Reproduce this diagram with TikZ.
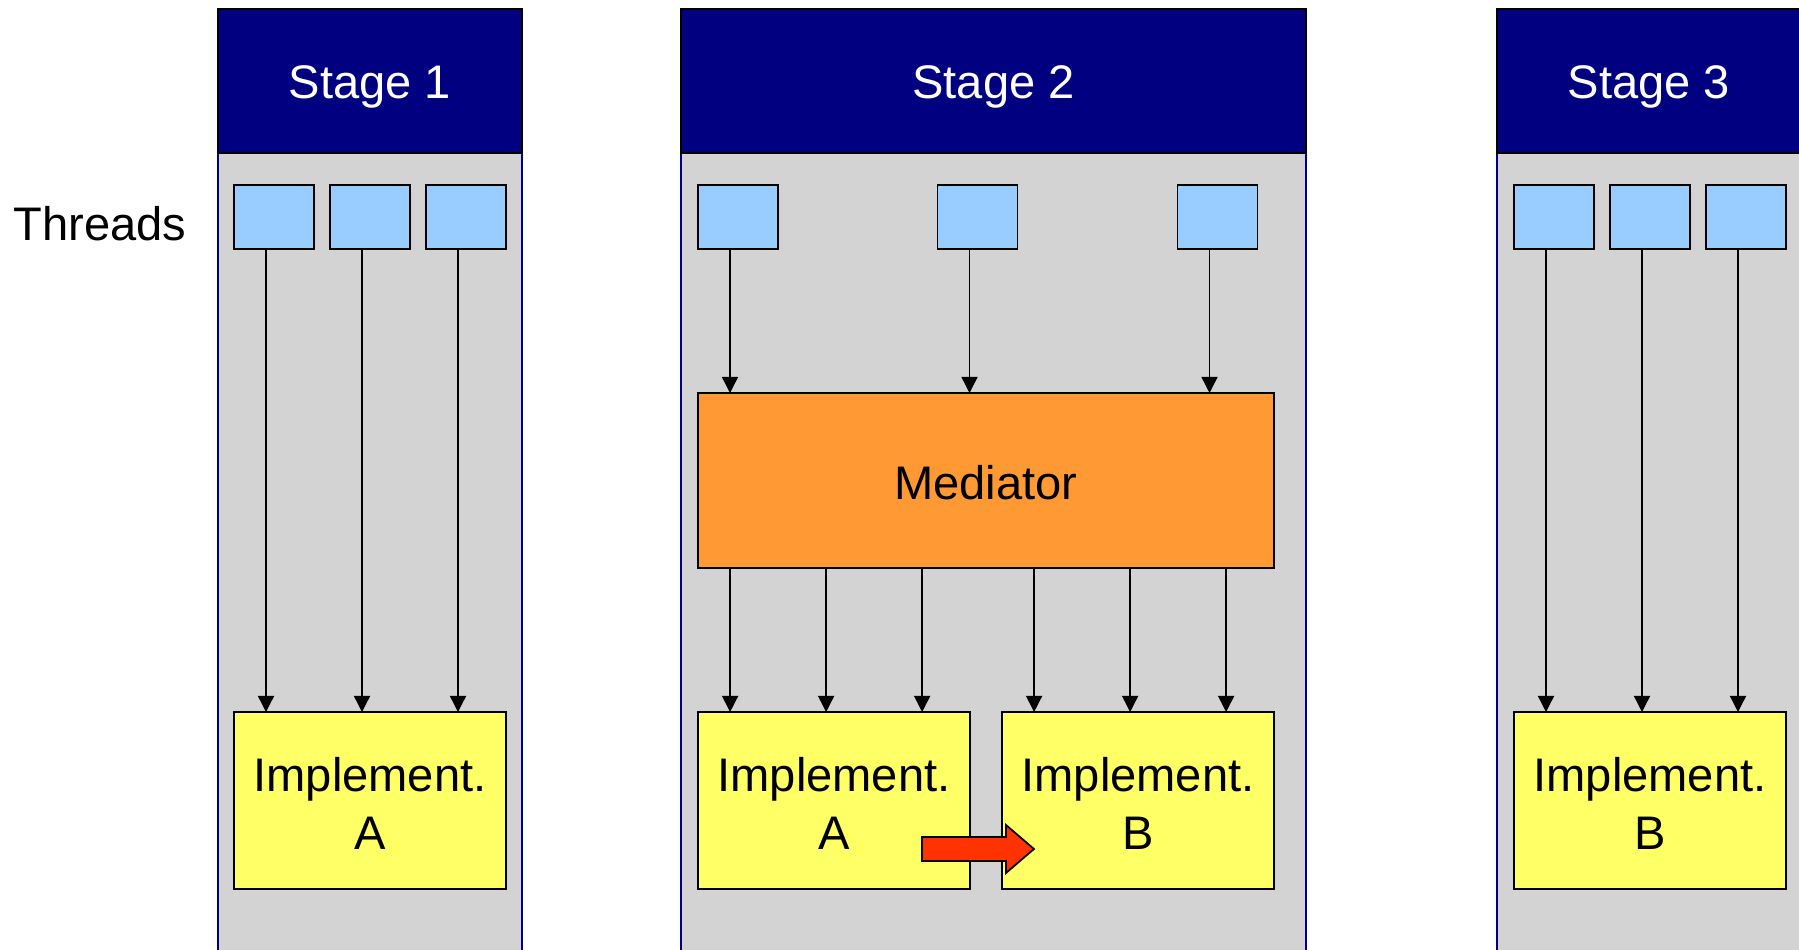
\documentclass[tikz,border=0pt]{standalone}
\usepackage{fontspec}
\setmainfont{Liberation Sans}
\usetikzlibrary{arrows.meta,calc}

\definecolor{hdrblue}{HTML}{000080}
\definecolor{bodygray}{HTML}{D3D3D3}
\definecolor{threadblue}{HTML}{99CCFF}
\definecolor{medorange}{HTML}{FF9933}
\definecolor{implyellow}{HTML}{FFFF66}
\definecolor{moved}{HTML}{FF3300}

\begin{document}
\begin{tikzpicture}[x=0.1mm,y=-0.1mm,
  every node/.style={font=\fontsize{13.4}{16.5}\selectfont,inner sep=0pt,outer sep=0pt},
  header/.style={draw=black,line width=0.5pt,fill=hdrblue,text=white,minimum height=14.4mm,text height=0.72em,text depth=0pt},
  column/.style={draw=hdrblue,line width=0.5pt,fill=bodygray},
  thread/.style={draw=black,line width=0.5pt,fill=threadblue,minimum width=8mm,minimum height=6.4mm},
  impl/.style={draw=black,line width=0.5pt,fill=implyellow,minimum width=27.2mm,minimum height=17.7mm,align=center},
  flow/.style={-{Triangle[length=1.6mm,width=1.6mm]},line width=0.4pt}]
	\useasboundingbox (0,0) rectangle (1799,950);
	\clip (0,0) rectangle (1799,950);

	% stage columns
	\draw[column] (218,153) rectangle (522,1000);
	\draw[column] (681,153) rectangle (1306,1000);
	\draw[column] (1497,153) rectangle (1801,1000);

	\draw[draw=black,line width=0.5pt,fill=hdrblue] (218,9) rectangle (522,153);
	\draw[draw=black,line width=0.5pt,fill=hdrblue] (681,9) rectangle (1306,153);
	\draw[draw=black,line width=0.5pt,fill=hdrblue] (1497,9) rectangle (1801,153);
	\node[text=white] (h1) at (370,87)    {Stage 1};
	\node[text=white] (h2) at (993.5,87)  {Stage 2};
	\node[text=white] (h3) at (1649,87)   {Stage 3};

	\node[anchor=base] (threads) at (100,241) {Threads};

	% threads
	\node[thread] (s1t1) at (274,217)    {};
	\node[thread] (s1t2) at (370,217)    {};
	\node[thread] (s1t3) at (466,217)    {};

	\node[thread] (s2t1) at (738,217)    {};
	\node[thread] (s2t2) at (977.5,217)  {};
	\node[thread] (s2t3) at (1217.5,217) {};

	\node[thread] (s3t1) at (1554,217)   {};
	\node[thread] (s3t2) at (1650,217)   {};
	\node[thread] (s3t3) at (1746,217)   {};

	% mediator and implementations
	\node[draw=black,line width=0.5pt,fill=medorange,minimum width=57.6mm,minimum height=17.5mm] (med) at (986,480.5) {};
	\node at (986,483) {Mediator};

	\node[impl] (s1a) at (370,800.5)  {};
	\node[impl] (s2a) at (834,800.5)  {};
	\node[impl] (s2b) at (1138,800.5) {};
	\node[impl] (s3b) at (1650,800.5) {};
	\node[align=center] at (370,803)  {Implement.\\A};
	\node[align=center] at (834,803)  {Implement.\\A};
	\node[align=center] at (1138,803) {Implement.\\B};
	\node[align=center] at (1650,803) {Implement.\\B};

	% stage 1
	\draw[flow] ($(s1t1.south west)!.4!(s1t1.south east)$) coordinate (p) -- (p |- s1a.north);
	\draw[flow] ($(s1t2.south west)!.4!(s1t2.south east)$) coordinate (p) -- (p |- s1a.north);
	\draw[flow] ($(s1t3.south west)!.4!(s1t3.south east)$) coordinate (p) -- (p |- s1a.north);

	% stage 2
	\draw[flow] ($(s2t1.south west)!.4!(s2t1.south east)$) coordinate (p) -- (p |- med.north);
	\draw[flow] ($(s2t2.south west)!.4!(s2t2.south east)$) coordinate (p) -- (p |- med.north);
	\draw[flow] ($(s2t3.south west)!.4!(s2t3.south east)$) coordinate (p) -- (p |- med.north);

	\path ($(s2a.north west)!.118!(s2a.north east)$) coordinate (a1)
	      ($(s2a.north west)!.471!(s2a.north east)$) coordinate (a2)
	      ($(s2a.north west)!.824!(s2a.north east)$) coordinate (a3)
	      ($(s2b.north west)!.118!(s2b.north east)$) coordinate (b1)
	      ($(s2b.north west)!.471!(s2b.north east)$) coordinate (b2)
	      ($(s2b.north west)!.824!(s2b.north east)$) coordinate (b3);
	\draw[flow] (a1 |- med.south) -- (a1);
	\draw[flow] (a2 |- med.south) -- (a2);
	\draw[flow] (a3 |- med.south) -- (a3);
	\draw[flow] (b1 |- med.south) -- (b1);
	\draw[flow] (b2 |- med.south) -- (b2);
	\draw[flow] (b3 |- med.south) -- (b3);

	% stage 3
	\draw[flow] ($(s3t1.south west)!.4!(s3t1.south east)$) coordinate (p) -- (p |- s3b.north);
	\draw[flow] ($(s3t2.south west)!.4!(s3t2.south east)$) coordinate (p) -- (p |- s3b.north);
	\draw[flow] ($(s3t3.south west)!.4!(s3t3.south east)$) coordinate (p) -- (p |- s3b.north);

	% switch from A to B
	\draw[fill=moved,line width=0.5pt] (922,837) -- (1006,837) -- (1006,825) -- (1034,849)
	      -- (1006,873) -- (1006,861) -- (922,861) -- cycle;
\end{tikzpicture}
\end{document}
